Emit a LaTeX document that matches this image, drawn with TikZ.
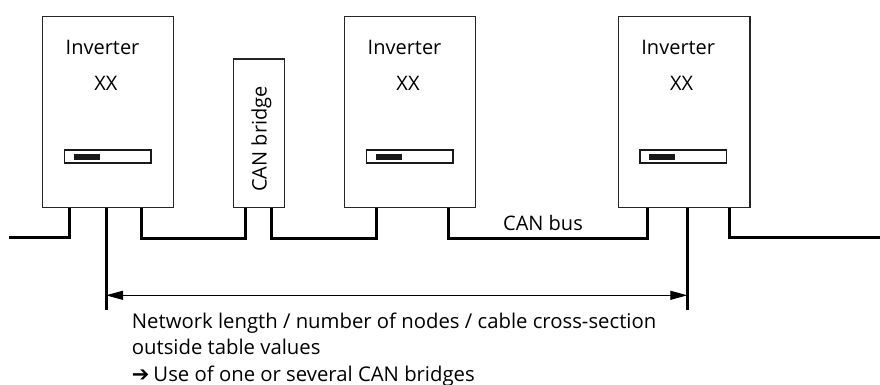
\documentclass[tikz,border=0pt]{standalone}
\usepackage{fontspec}
\setmainfont{Open Sans}
\newfontfamily\symfont{DejaVu Sans}
\usetikzlibrary{arrows.meta}
\begin{document}
\begin{tikzpicture}[x=1pt,y=-1pt,
  unitbox/.style={draw=black!85,line width=1.3pt,inner sep=0pt,anchor=north west},
  invbox/.style={unitbox,minimum width=131pt,minimum height=191pt},
  bus/.style={line width=3pt,line join=miter},
  lbl/.style={inner sep=0pt,font=\fontsize{20}{27}\selectfont},
  note/.style={inner sep=0pt,font=\fontsize{20.3}{27}\selectfont},
  dim/.style={line width=1pt,{Triangle[length=17pt,width=9pt]}-{Triangle[length=17pt,width=9pt]}}
]
\useasboundingbox (0,0) rectangle (880,385);
\fill[white] (0,0) rectangle (880,385);

% boxes
\node[invbox] (inv1) at (42,16) {};
\node[invbox] (inv2) at (344,16) {};
\node[invbox,minimum width=131.6pt] (inv3) at (617.7,16) {};
\node[unitbox,minimum width=51pt,minimum height=148.5pt] (bridge) at (233,58.5) {};

% labels inside inverters
\foreach \b in {inv1,inv2,inv3}{
  \node[lbl,anchor=base west] (\b-name) at ([xshift=23.5pt,yshift=-39pt]\b.north west) {Inverter};
  \node[lbl,anchor=base] (\b-xx) at ([xshift=64pt,yshift=-75pt]\b.north west) {XX};
  \draw[line width=1.5pt,draw=black!90] ([xshift=22.5pt,yshift=-134pt]\b.north west) rectangle ++(86.5,13);
  \fill[black!90] ([xshift=31.5pt,yshift=-137.5pt]\b.north west) rectangle ++(26,6.5);
}
\node[lbl,rotate=90,anchor=base] (brlbl) at (266.5,139) {CAN bridge};

% bus
\coordinate (busL) at (9,237);
\coordinate (busR) at (880,237);
\draw[bus] (busL) -| ([xshift=27pt]inv1.south west);
\draw[bus] ([xshift=99pt]inv1.south west) -- ++(0,30) -| ([xshift=12.7pt]bridge.south west);
\draw[bus] ([xshift=38.7pt]bridge.south west) -- ++(0,30) -| ([xshift=32.7pt]inv2.south west);
\draw[bus] ([xshift=104pt]inv2.south west) -- ++(0,30) -| ([xshift=30pt]inv3.south west);
\draw[bus] ([xshift=111.6pt]inv3.south west) |- (busR);
\node[lbl,anchor=base] (buslbl) at (543,230) {CAN bus};

% measuring stubs
\coordinate (m1) at ([xshift=64pt]inv1.south west);
\coordinate (m3) at ([xshift=69.6pt]inv3.south west);
\draw[bus] (m1) -- ++(0,102) coordinate (m1b);
\draw[bus] (m3) -- ++(0,102) coordinate (m3b);
\draw[dim] ([yshift=-87pt]m1) -- ([yshift=-87pt]m3);

% note
\node[note,anchor=base west] (t1) at (131.7,328) {Network length / number of nodes / cable cross-section};
\node[note,anchor=base west] (t2) at (131.7,354.5) {outside table values};
\node[note,anchor=base west] (t3) at (131.7,381) {{\symfont\bfseries\fontsize{21}{27}\selectfont ➔}\hspace{4pt}Use of one or several CAN bridges};
\end{tikzpicture}
\end{document}
